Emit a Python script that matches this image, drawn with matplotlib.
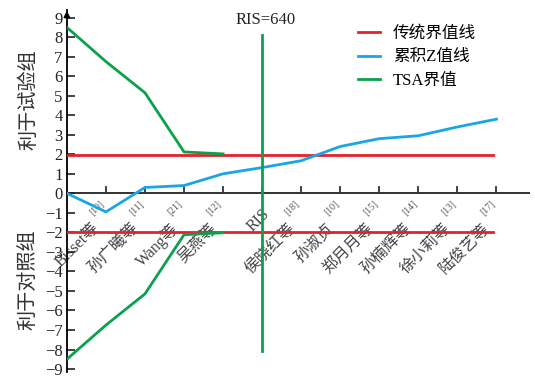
import matplotlib.pyplot as plt
import numpy as np
from matplotlib.transforms import offset_copy

plt.rcParams['font.family'] = ['Liberation Serif', 'Noto Sans CJK SC']

# studies in order of publication, cumulative meta-analysis
studies = ['Bisset等', '孙广曦等', 'Wang等', '吴燕等', 'RIS', '侯晓红等',
           '孙淑贞', '郑月月等', '孙楠辉等', '徐小莉等', '陆俊艺等']
refs = ['10', '11', '21', '12', '', '18', '10', '15', '14', '13', '17']
cum_z = [0, -0.95, 0.3, 0.4, 1.0, 1.32, 1.67, 2.4, 2.8, 2.95, 3.4, 3.8]
tsa_upper = [8.5, 6.75, 5.15, 2.12, 2.02]
tsa_lower = [-8.5, -6.75, -5.15, -2.12, -2.02]
z_crit = 1.96
ris_pos = 5
ris_span = 8.1

red = '#e8202a'
blue = '#1aa6e6'
green = '#0ba14b'

fig = plt.figure(figsize=(5.35, 3.78), dpi=100)
ax = fig.add_axes([0.125, 0.016, 0.865, 0.958])

x = np.arange(len(cum_z))
ax.plot([0, 10.9], [z_crit, z_crit], color=red, lw=2, zorder=3, label='传统界值线')
ax.plot([0, 10.9], [-z_crit, -z_crit], color=red, lw=2, zorder=3)
ax.plot(x, cum_z, color=blue, lw=2, zorder=3, label='累积Z值线')
ax.plot(x[:len(tsa_upper)], tsa_upper, color=green, lw=2, zorder=3, label='TSA界值')
ax.plot(x[:len(tsa_lower)], tsa_lower, color=green, lw=2, zorder=3)
ax.plot([ris_pos, ris_pos], [-ris_span, ris_span], color=green, lw=2, zorder=3)

ax.set_xlim(0, 11.85)
ax.set_ylim(-9.15, 9.4)
for s in ['top', 'right', 'bottom']:
    ax.spines[s].set_visible(False)
ax.spines['left'].set_linewidth(1.3)
ax.axhline(0, color='#222222', lw=1.3, zorder=2)
ax.annotate('', xy=(0, 9.5), xytext=(0, 8.9),
            arrowprops=dict(arrowstyle='-|>', color='black', lw=1.2,
                            mutation_scale=9), annotation_clip=False)

ax.set_yticks(range(-9, 10))
ax.tick_params(axis='y', direction='in', length=6, width=1.2,
               labelsize=12, colors='#222222', pad=3)
ax.set_xticks([])
for xi in x[1:]:
    ax.plot([xi, xi], [0, 0.3], color='#333333', lw=1.3, zorder=2)

# rotated study labels: name plus a small superscript reference
renderer = fig.canvas.get_renderer()
ang = np.deg2rad(45)
for i, (name, ref) in enumerate(zip(studies, refs), start=1):
    base = offset_copy(ax.transData, fig=fig, x=0, y=-9, units='points')
    shift = 0.0
    if ref:
        ax.text(i, 0, '[' + ref + ']', rotation=45, ha='right', va='bottom',
                rotation_mode='anchor', fontsize=7, color='#555555',
                zorder=1, transform=base)
        probe = fig.text(0, 0, '[' + ref + ']', fontsize=7)
        shift = probe.get_window_extent(renderer).width * 72 / fig.dpi + 3
        probe.remove()
    tr = offset_copy(base, fig=fig, x=-shift * np.cos(ang), y=-shift * np.sin(ang),
                     units='points')
    ax.text(i, 0, name, rotation=45, ha='right', va='top', rotation_mode='anchor',
            fontsize=11.5, color='#444444', zorder=1, transform=tr)

ax.text(5.1, 8.45, 'RIS=640', ha='center', va='bottom', fontsize=12,
        color='#222222')
fig.text(0.055, 0.735, '利于试验组', rotation=90, ha='center', va='center',
         fontsize=14.5, color='#333333')
fig.text(0.055, 0.26, '利于对照组', rotation=90, ha='center', va='center',
         fontsize=14.5, color='#333333')

ax.legend(loc='upper left', bbox_to_anchor=(0.597, 0.997), frameon=False,
          fontsize=12, handlelength=1.3, labelspacing=0.45, handletextpad=0.8)

fig.savefig('out.png', dpi=100)
